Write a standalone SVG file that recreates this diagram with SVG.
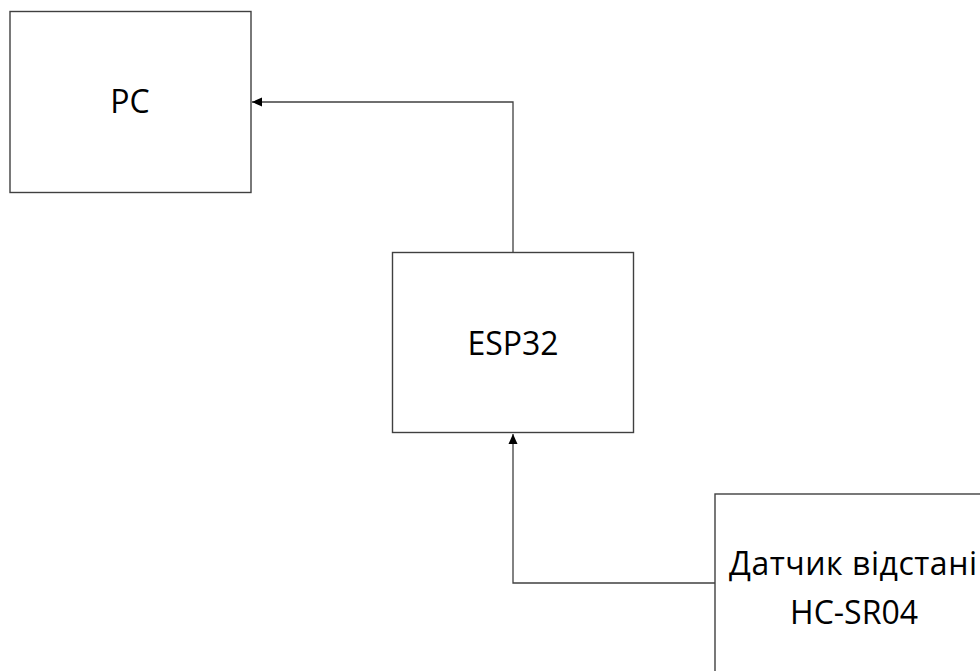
<svg xmlns="http://www.w3.org/2000/svg" width="980" height="671" viewBox="0 0 980 671">
<style>
.box{fill:#fff;stroke:#404040;stroke-width:1.4}
.lbl{font-family:"Open Sans","Liberation Sans",sans-serif;font-size:32px;fill:#000;text-anchor:middle}
.conn{fill:none;stroke:#404040;stroke-width:1.3}
</style>
<defs>
<marker id="arr" viewBox="0 0 10 10" refX="10" refY="5" markerWidth="10" markerHeight="10" markerUnits="userSpaceOnUse" orient="auto">
<path d="M0,0.5 L10,5 L0,9.5 Z" fill="#000"/>
</marker>
</defs>
<rect width="980" height="671" fill="#fff"/>
<g id="pc">
<rect class="box" x="10" y="11.5" width="241" height="181"/>
<text class="lbl" x="130" y="113">PC</text>
</g>
<g id="esp32">
<rect class="box" x="392.5" y="252.5" width="241" height="180"/>
<text class="lbl" x="513" y="355">ESP32</text>
</g>
<g id="sensor">
<rect class="box" x="715" y="494" width="300" height="200"/>
<text class="lbl" x="853" y="575" textLength="248" lengthAdjust="spacing">Датчик відстані</text>
<text class="lbl" x="854" y="624">HC-SR04</text>
</g>
<g id="connectors">
<path class="conn" d="M513,252.5 V102 H252" marker-end="url(#arr)"/>
<path class="conn" d="M715,583 H513 V434" marker-end="url(#arr)"/>
</g>
</svg>
